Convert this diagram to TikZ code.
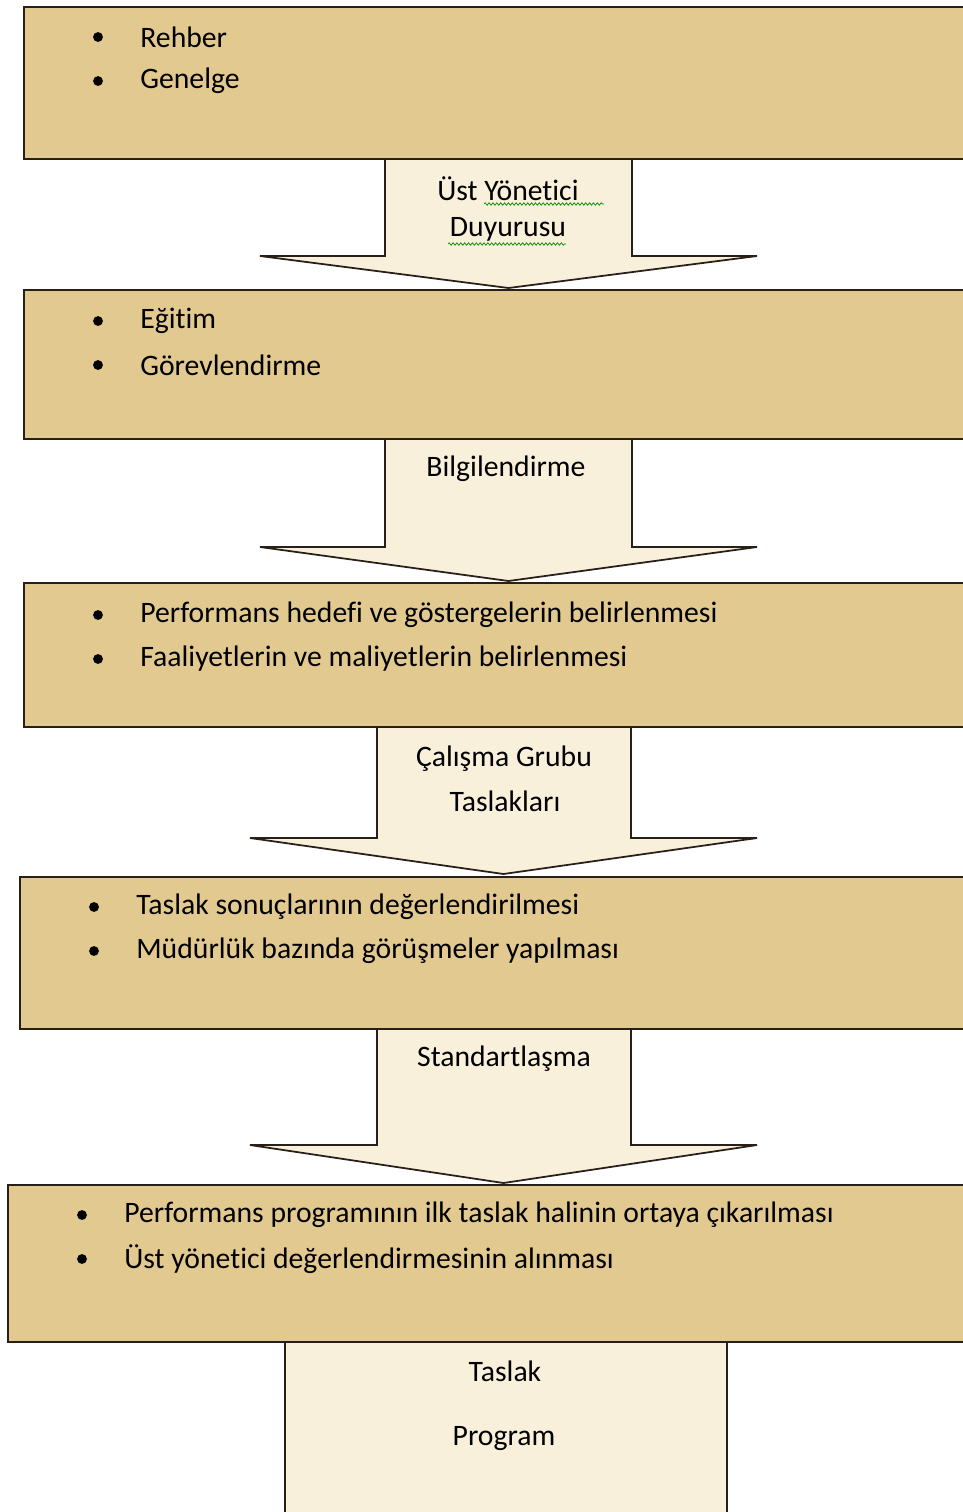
\documentclass[tikz,border=0pt]{standalone}
\usepackage{fontspec}
\setmainfont[Ligatures=NoCommon]{Carlito}
\usetikzlibrary{decorations.pathmorphing}

\definecolor{papyrus}{RGB}{226,201,143}
\definecolor{cream}{RGB}{249,240,220}
\definecolor{inkline}{RGB}{40,32,24}

\tikzset{
  paperbox/.style={draw=inkline, line width=1.2pt, fill=papyrus},
  creambox/.style={draw=inkline, line width=1pt, fill=cream},
  blockarrow/.style={draw=inkline, line width=1pt, fill=cream, line join=miter},
  item/.style={anchor=west, inner sep=0pt, font=\fontsize{16.9}{19}\selectfont},
  arrowtext/.style={inner sep=0pt, font=\fontsize{16.9}{19}\selectfont},
  squiggle/.style={draw=green!55!black, line width=0.4pt, decorate,
    decoration={snake, amplitude=0.7pt, segment length=2.2pt}}
}
% block arrow: shaft left/right, top, neck, head left/right, tip
\newcommand\blockarrow[7]{%
  \filldraw[blockarrow] (#2,#3) -- (#2,#4) -- (#6,#4) -- ({(#5+#6)/2},#7)
    -- (#5,#4) -- (#1,#4) -- (#1,#3);
}
% bullet item
\newcommand\bitem[4]{%
  \node[item] (#1) at (#2,#3) {#4};
  \fill ({#2-42},#3) circle (2.8pt);
}

\begin{document}
\begin{tikzpicture}[x=0.02cm, y=-0.02cm]
  \useasboundingbox (0,0) rectangle (963,1512);

  % arrows between the boxes
  \blockarrow{385}{632}{159}{256}{260}{757}{288}
  \blockarrow{385}{632}{439}{547}{260}{757}{581}
  \blockarrow{377}{631}{727}{838}{250}{757}{874}
  \blockarrow{377}{631}{1029}{1145}{250}{757}{1183}

  % boxes
  \draw[paperbox] (24,7) rectangle (980,159);
  \draw[paperbox] (24,290) rectangle (980,439);
  \draw[paperbox] (24,583) rectangle (980,727);
  \draw[paperbox] (20,877) rectangle (980,1029);
  \draw[paperbox] (8,1185) rectangle (980,1342);
  \draw[creambox] (285,1342) rectangle (727,1530);

  % box texts
  \bitem{rehber}{140}{37}{Rehber}
  \bitem{genelge}{140}{81}{Genelge}
  \bitem{egitim}{140}{321}{Eğitim}
  \bitem{gorev}{140}{365}{Görevlendirme}
  \bitem{hedef}{140}{615}{Performans hedefi ve göstergelerin belirlenmesi}
  \bitem{faal}{140}{659}{Faaliyetlerin ve maliyetlerin belirlenmesi}
  \bitem{sonuc}{136}{907}{Taslak sonuçlarının değerlendirilmesi}
  \bitem{mudur}{136}{951}{Müdürlük bazında görüşmeler yapılması}
  \bitem{ilk}{124}{1215}{Performans programının ilk taslak halinin ortaya çıkarılması}
  \bitem{ust}{124}{1259}{Üst yönetici değerlendirmesinin alınması}

  % arrow texts
  \node[arrowtext] (yonetici) at (508,189) {Üst Yönetici};
  \node[arrowtext] (duyuru) at (508,229) {Duyurusu};
  \draw[squiggle] (484,204) -- (604,204);
  \draw[squiggle] (448,244) -- (566,244);
  \node[arrowtext] (bilgi) at (506,469) {Bilgilendirme};
  \node[arrowtext] (calisma) at (504,759) {Çalışma Grubu};
  \node[arrowtext] (taslaklar) at (505,801) {Taslakları};
  \node[arrowtext] (standart) at (504,1059) {Standartlaşma};
  \node[arrowtext] (taslak) at (505,1371) {Taslak};
  \node[arrowtext] (program) at (504,1439) {Program};
\end{tikzpicture}
\end{document}
